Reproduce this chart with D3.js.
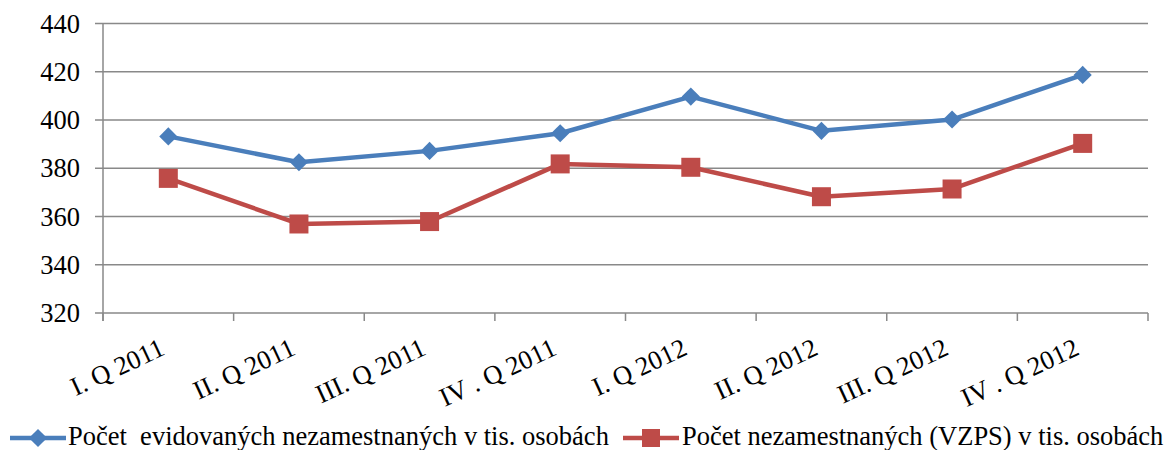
<!DOCTYPE html>
<html><head><meta charset="utf-8">
<script src="https://cdn.jsdelivr.net/npm/d3@7"></script>
<style>body{margin:0;background:#fff}</style>
</head><body><svg id="c" width="1169" height="450"></svg>
<script>
const categories = ["I. Q 2011","II. Q 2011","III. Q 2011","IV . Q 2011","I. Q 2012","II. Q 2012","III. Q 2012","IV . Q 2012"];
const evidovani = [393.2, 382.5, 387.2, 394.5, 409.7, 395.5, 400.2, 418.7];
const vzps = [375.8, 356.9, 357.9, 381.8, 380.4, 368.2, 371.4, 390.3];
const yTicks = [320, 340, 360, 380, 400, 420, 440];
const seriesNames = ["Počet  evidovaných nezamestnaných v tis. osobách", "Počet nezamestnaných (VZPS) v tis. osobách"];
const colors = ["#4A7EBB", "#BE4B48"];

const FONT = "Liberation Serif";
const FS = 26.5;
const svg = d3.select("#c");
const L = 103, R = 1148, T = 23.5, B = 313;
const x = d3.scaleBand().domain(categories).range([L, R]);
const y = d3.scaleLinear().domain([320, 440]).range([B, T]);
const grid = "#898989";
const cx = c => x(c) + x.bandwidth() / 2;

// gridlines
svg.append("g").selectAll("line").data(yTicks).join("line")
  .attr("x1", L - 8).attr("x2", R).attr("y1", d => y(d)).attr("y2", d => y(d))
  .attr("stroke", grid).attr("stroke-width", 1.5);
// y axis line
svg.append("line").attr("x1", L).attr("x2", L).attr("y1", T).attr("y2", B + 8).attr("stroke", grid).attr("stroke-width", 1.5);
// x ticks
const xt = categories.map(c => x(c)).concat([R]);
svg.append("g").selectAll("line").data(xt).join("line")
  .attr("x1", d => d).attr("x2", d => d).attr("y1", B).attr("y2", B + 8)
  .attr("stroke", grid).attr("stroke-width", 1.5);
// y labels
svg.append("g").selectAll("text").data(yTicks).join("text")
  .attr("font-family", FONT)
  .attr("x", 80).attr("y", d => y(d) + 9).attr("text-anchor", "end").attr("font-size", FS).attr("fill", "#000").text(d => d);
// x labels
svg.append("g").selectAll("text").data(categories).join("text")
  .attr("font-family", FONT)
  .attr("transform", d => `translate(${cx(d) - 2},${B + 41}) rotate(-25)`)
  .attr("text-anchor", "end").attr("font-size", FS).attr("fill", "#000").text(d => d);

const line = d3.line().x((d, i) => cx(categories[i])).y(d => y(d));
[evidovani, vzps].forEach((s, k) => {
  svg.append("path").datum(s).attr("d", line).attr("fill", "none").attr("stroke", colors[k])
    .attr("stroke-width", 4.5).attr("stroke-linejoin", "round");
});
// markers
const diamond = d3.symbol(d3.symbolSquare, 165)();
svg.append("g").selectAll("path").data(evidovani).join("path")
  .attr("d", diamond)
  .attr("transform", (d, i) => `translate(${cx(categories[i])},${y(d)}) rotate(45)`)
  .attr("fill", colors[0]);
svg.append("g").selectAll("rect").data(vzps).join("rect")
  .attr("x", (d, i) => cx(categories[i]) - 9.5).attr("y", d => y(d) - 9.5)
  .attr("width", 19).attr("height", 19).attr("fill", colors[1]);

// legend
const leg = [{x0: 10, x1: 66, tx: 68}, {x0: 623, x1: 679, tx: 682}];
leg.forEach((l, k) => {
  const ly = 438;
  svg.append("line").attr("x1", l.x0).attr("x2", l.x1).attr("y1", ly).attr("y2", ly).attr("stroke", colors[k]).attr("stroke-width", 4.5);
  const mx = (l.x0 + l.x1) / 2;
  if (k === 0) svg.append("path").attr("d", diamond).attr("transform", `translate(${mx},${ly}) rotate(45)`).attr("fill", colors[0]);
  else svg.append("rect").attr("x", mx - 9).attr("y", ly - 9).attr("width", 18).attr("height", 18).attr("fill", colors[1]);
  svg.append("text").attr("font-family", FONT).attr("x", l.tx).attr("y", ly + 7).attr("font-size", FS).attr("fill", "#000")
    .style("white-space", "pre").attr("xml:space", "preserve").text(seriesNames[k]);
});
</script></body></html>
